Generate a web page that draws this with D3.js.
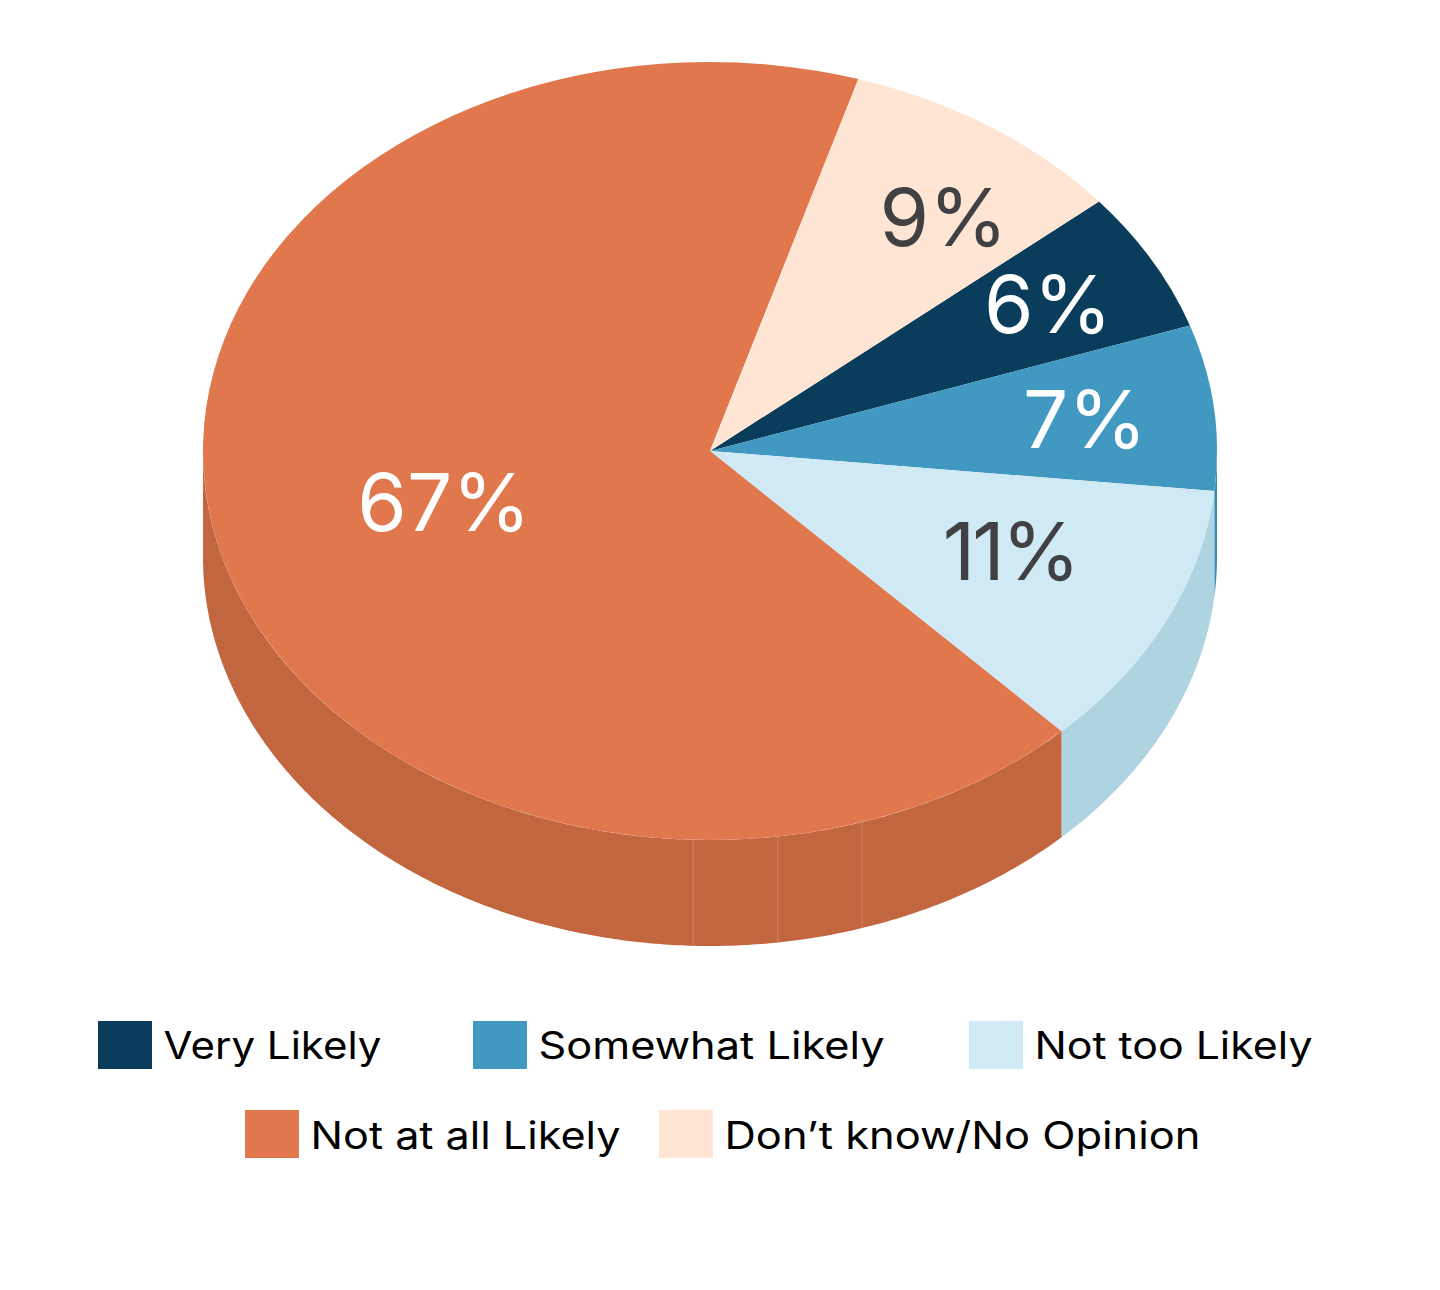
<!DOCTYPE html>
<html>
<head>
<meta charset="utf-8">
<script src="https://cdn.jsdelivr.net/npm/d3@7/dist/d3.min.js"></script>
<style>
html,body{margin:0;padding:0;background:#fff}
svg{display:block}
text{font-family:Inter,"Noto Sans",sans-serif}
</style>
</head>
<body>
<svg id="c" width="1440" height="1290"></svg>
<script>
const categories = ["Very Likely","Somewhat Likely","Not too Likely","Not at all Likely","Don\u2019t know/No Opinion"];
const values = [5.86,6.86,11.17,66.92,9.19];
const valueLabels = ["6%","7%","11%","67%","9%"];
const topColors = ["#0A3D5C","#4199C2","#CFEAF5","#E0774D","#FFE5D4"];
const sideColors = ["#083350","#3A8BB3","#AED4E1","#C26640","#D9C3B4"];
const labelColors = ["#fff","#fff","#414042","#fff","#414042"];
const seamDegrees = [162.55,172.3,181.9];
const labelAnchors = [[1048,333],[1085,448],[1010,580],[444,531],[943.5,246]];
const labelTracking = [0,0,-3,0,0];
const legendRows = [[0,1,2],[3,4]];
const legendSwatchX = [[98,473,969],[245,659]];
const legendTextWidths = [[218,346,278],[310,476]];
const legendY = [1021,1110];
const legendBaseline = [1059,1149];

const svg = d3.select("#c");
const cx=710, cy=451, rx=507, ry=389, depth=106;
const startAngle = 50.1*Math.PI/180;
const pie = d3.pie().sort(null).startAngle(startAngle).endAngle(startAngle+2*Math.PI);
const arcs = pie(values);
const px = a => cx + rx*Math.sin(a);
const py = (a,d=0) => cy - ry*Math.cos(a) + d;
const toRad = d3.scaleLinear().domain([0,180]).range([0,Math.PI]);
const line = d3.line().x(d=>d[0]).y(d=>d[1]);

function wallPath(a0,a1){
  const n = Math.max(2,Math.ceil((a1-a0)*120));
  const t = d3.range(n+1).map(i=>a0+(a1-a0)*i/n);
  const pts = t.map(a=>[px(a),py(a)]).concat(t.slice().reverse().map(a=>[px(a),py(a,depth)]));
  return line(pts)+"Z";
}

const walls = svg.append("g");
arcs.forEach((d,i)=>{
  const lo = Math.max(d.startAngle,Math.PI/2);
  const hi = Math.min(d.endAngle,Math.PI*1.5);
  if(hi>lo){
    walls.append("path").attr("d",wallPath(lo,hi)).attr("fill",sideColors[i]);
  }
});
seamDegrees.forEach(deg=>{
  const a=toRad(deg);
  walls.append("line").attr("x1",px(a)).attr("x2",px(a)).attr("y1",py(a)).attr("y2",py(a,depth))
    .attr("stroke","#D68A6A").attr("stroke-width",1);
});

const arc = d3.arc().innerRadius(0).outerRadius(rx);
svg.append("g").attr("transform",`translate(${cx},${cy}) scale(1,${ry/rx})`)
  .selectAll("path").data(arcs).join("path")
  .attr("d",arc).attr("fill",(d,i)=>topColors[i]);

svg.append("g").selectAll("text").data(valueLabels).join("text")
  .attr("x",(d,i)=>labelAnchors[i][0]).attr("y",(d,i)=>labelAnchors[i][1])
  .attr("text-anchor","middle").attr("font-size",80).attr("font-weight",400)
  .attr("letter-spacing",(d,i)=>labelTracking[i])
  .attr("fill",(d,i)=>labelColors[i]).text(d=>d);

const legend = svg.append("g");
legendRows.forEach((row,r)=>{
  row.forEach((c,j)=>{
    const x=legendSwatchX[r][j];
    legend.append("rect").attr("x",x).attr("y",legendY[r]).attr("width",54).attr("height",48).attr("fill",topColors[c]);
    legend.append("text").attr("x",x+65.5).attr("y",legendBaseline[r])
      .attr("font-size",38).attr("fill","#000")
      .attr("textLength",legendTextWidths[r][j]).attr("lengthAdjust","spacingAndGlyphs")
      .text(categories[c]);
  });
});
</script>
</body>
</html>
